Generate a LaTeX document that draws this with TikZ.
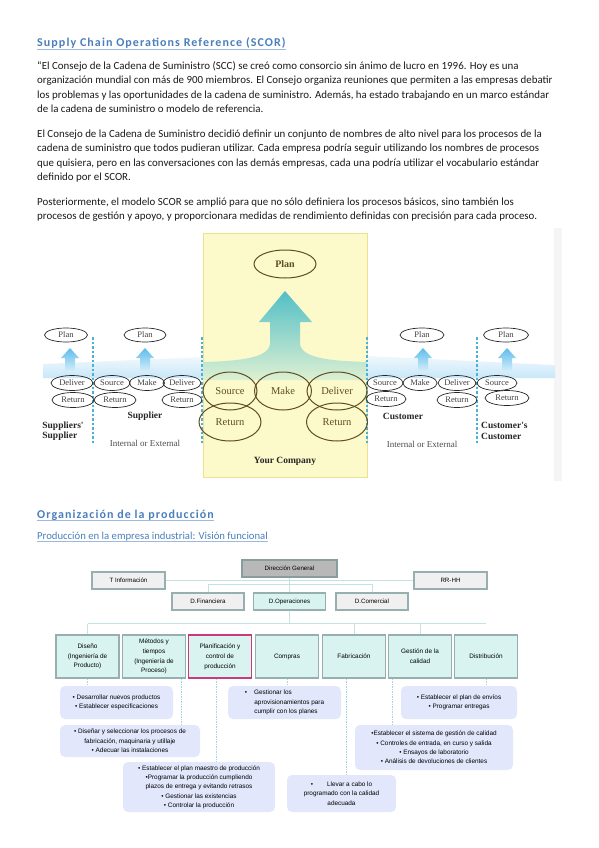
\documentclass[tikz,border=0pt]{standalone}
\usepackage{fontspec}
\setmainfont{Carlito}
\newfontfamily\chartfont{Liberation Sans}
\newfontfamily\scorfont{Liberation Serif}
\newfontfamily\spacedhead[LetterSpace=9]{Carlito}
\usepackage{xcolor}
\usepackage{tikz}
\usetikzlibrary{arrows.meta, positioning, calc, shapes.geometric}

\definecolor{headblue}{HTML}{4A7EBB}
\definecolor{lineblue}{HTML}{9DB9DD}
\definecolor{yellowbg}{HTML}{FCF9CB}
\definecolor{yellowedge}{HTML}{EFE08E}
\definecolor{olivedge}{HTML}{5E4E22}
\definecolor{bandblue}{HTML}{C9E7F8}
\definecolor{arrowtop}{HTML}{52BFC6}
\definecolor{arrowbot}{HTML}{DDF0D2}
\definecolor{smalltop}{HTML}{5DBCEB}
\definecolor{smallbot}{HTML}{D9F0FB}
\definecolor{dashblue}{HTML}{4DB0D8}
\definecolor{orgteal}{HTML}{C4E2E2}
\definecolor{boxedge}{HTML}{97AFAE}
\definecolor{tealfill}{HTML}{D9F4F0}
\definecolor{greyfill}{HTML}{F0F0F0}
\definecolor{dirfill}{HTML}{B8B8B8}
\definecolor{pinkedge}{HTML}{C93A7D}
\definecolor{bubblefill}{HTML}{E2E7FB}
\definecolor{dropblue}{HTML}{A8D3E2}

\begin{document}
\begin{tikzpicture}[
    x=1pt, y=-1pt,
    headtext/.style={font=\spacedhead\bfseries\fontsize{12}{14}\selectfont,
                     text=headblue, anchor=base west, inner sep=0pt},
    subhead/.style={font=\fontsize{10.7}{12}\selectfont, text=headblue,
                    anchor=base west, inner sep=0pt},
    paratext/.style={font=\fontsize{10.9}{14.5}\selectfont, anchor=north west,
                     align=left, inner sep=0pt, text=black!90},
    uline/.style={lineblue, line width=0.8pt},
    scorsmall/.style={ellipse, draw=black!85, line width=0.7pt, inner sep=0pt,
                      minimum height=15pt, text=black!75,
                      font=\scorfont\fontsize{8.5}{9}\selectfont},
    scorbig/.style={ellipse, draw=olivedge, line width=1pt, inner sep=0pt,
                    minimum height=38pt, text=olivedge,
                    font=\scorfont\fontsize{10.5}{12}\selectfont},
    roletext/.style={font=\scorfont\bfseries\fontsize{9.5}{10.5}\selectfont,
                     align=left, inner sep=0pt, text=black!85},
    notetext/.style={font=\scorfont\fontsize{9}{10}\selectfont, text=black!70,
                     inner sep=0pt},
    flowline/.style={dashblue, line width=1.2pt, dash pattern=on 2.5pt off 2pt},
    liftarrow/.style={top color=smalltop, bottom color=smallbot},
    orgbox/.style={draw=boxedge, line width=1.1pt, fill=greyfill,
                   minimum width=73pt, minimum height=17pt, inner sep=1pt,
                   font=\chartfont\fontsize{6.2}{7}\selectfont},
    funcbox/.style={draw=boxedge, line width=1.1pt, fill=tealfill,
                    minimum width=63pt, minimum height=43pt, inner sep=1pt,
                    align=center, font=\chartfont\fontsize{6.4}{9.8}\selectfont},
    taskbox/.style={fill=bubblefill, rounded corners=5pt, inner sep=2pt,
                    align=center, font=\chartfont\fontsize{6.4}{9.3}\selectfont},
    orglink/.style={orgteal, line width=1pt},
    droplink/.style={dropblue, line width=0.8pt, dash pattern=on 1.5pt off 1pt},
]
\useasboundingbox (0,0) rectangle (599,848);

% ═══════════════════════════════════════════════════════════════════════════
%  TOP: SCOR text
% ═══════════════════════════════════════════════════════════════════════════
\node[headtext] (h1) at (37,47) {Supply Chain Operations Reference (SCOR)};
\draw[uline] ([yshift=-2pt]h1.base west) -- ([yshift=-2pt]h1.base east);

\node[paratext] (intro) at (37,61)
    {“El Consejo de la Cadena de Suministro (SCC) se creó como consorcio sin ánimo de lucro en 1996. Hoy es una\\
     organización mundial con más de 900 miembros. El Consejo organiza reuniones que permiten a las empresas debatir\\
     los problemas y las oportunidades de la cadena de suministro. Además, ha estado trabajando en un marco estándar\\
     de la cadena de suministro o modelo de referencia.\\[10pt]
     El Consejo de la Cadena de Suministro decidió definir un conjunto de nombres de alto nivel para los procesos de la\\
     cadena de suministro que todos pudieran utilizar. Cada empresa podría seguir utilizando los nombres de procesos\\
     que quisiera, pero en las conversaciones con las demás empresas, cada una podría utilizar el vocabulario estándar\\
     definido por el SCOR.\\[10pt]
     Posteriormente, el modelo SCOR se amplió para que no sólo definiera los procesos básicos, sino también los\\
     procesos de gestión y apoyo, y proporcionara medidas de rendimiento definidas con precisión para cada proceso.};

% ═══════════════════════════════════════════════════════════════════════════
%  SCOR figure
% ═══════════════════════════════════════════════════════════════════════════
\fill[black!4] (554,228) rectangle (562,481);

% Your company box
\node[draw=yellowedge, fill=yellowbg, line width=0.8pt, inner sep=0pt,
      minimum width=164pt, minimum height=244pt] (company) at (285,355) {};

% Flow band and big arrow
\shade[top color=bandblue!30, bottom color=bandblue]
    (43,364) -- (203,357) -- (203,378) -- (43,378) -- cycle;
\shade[top color=bandblue!30, bottom color=bandblue]
    (367,356) -- (555,365) -- (555,378) -- (367,378) -- cycle;
\shade[top color=arrowtop, bottom color=arrowbot]
    (285,291) -- (312,322) -- (300,322) -- (300,343)
    .. controls (300,358) and (330,361) .. (367,362) -- (367,380)
    -- (203,380) -- (203,362)
    .. controls (240,361) and (270,358) .. (270,343)
    -- (270,322) -- (259,322) -- cycle;

% Small lift arrows
\shade[liftarrow] (70,348) -- (79,358) -- (75,358) -- (75,372) -- (65,372) -- (65,358) -- (61,358) -- cycle;
\shade[liftarrow] (145,348) -- (154,358) -- (150,358) -- (150,372) -- (140,372) -- (140,358) -- (136,358) -- cycle;
\shade[liftarrow] (423,348) -- (432,358) -- (428,358) -- (428,372) -- (418,372) -- (418,358) -- (414,358) -- cycle;
\shade[liftarrow] (507,348) -- (516,358) -- (512,358) -- (512,372) -- (502,372) -- (502,358) -- (498,358) -- cycle;

% Boundaries
\draw[flowline] (93,337) -- (93,443);
\draw[flowline] (202,337) -- (202,443);
\draw[flowline] (367,337) -- (367,443);
\draw[flowline] (477,337) -- (477,443);

% Plans
\node[scorsmall, minimum width=43pt, minimum height=14pt] (planSS) at (66,335) {Plan};
\node[scorsmall, minimum width=42pt, minimum height=14pt] (planS) at (145,335) {Plan};
\node[scorbig, minimum width=62pt, minimum height=28pt,
      font=\scorfont\bfseries\fontsize{10}{12}\selectfont] (planY) at (285,264) {Plan};
\node[scorsmall, minimum width=44pt, minimum height=14pt] (planC) at (422,335) {Plan};
\node[scorsmall, minimum width=45pt, minimum height=14pt] (planCC) at (506,335) {Plan};

% Supplier side
\node[scorsmall, minimum width=42pt] (ssDel) at (72,383) {Deliver};
\node[scorsmall, minimum width=42pt] (ssRet) at (73,400) {Return};
\node[scorsmall, minimum width=36pt] (sSrc) at (112,383) {Source};
\node[scorsmall, minimum width=35pt] (sMak) at (147,383) {Make};
\node[scorsmall, minimum width=38pt] (sDel) at (182,383) {Deliver};
\node[scorsmall, minimum width=42pt] (sRetA) at (115,400) {Return};
\node[scorsmall, minimum width=40pt] (sRetB) at (182,400) {Return};

% Your company
\node[scorbig, minimum width=54pt] (ySrc) at (230,391) {Source};
\node[scorbig, minimum width=57pt] (yMak) at (283,391) {Make};
\node[scorbig, minimum width=60pt] (yDel) at (337,391) {Deliver};
\node[scorbig, minimum width=62pt] (yRetA) at (230,422) {Return};
\node[scorbig, minimum width=61pt] (yRetB) at (337,422) {Return};

% Customer side
\node[scorsmall, minimum width=36pt] (cSrc) at (385,383) {Source};
\node[scorsmall, minimum width=34pt] (cMak) at (420,383) {Make};
\node[scorsmall, minimum width=38pt] (cDel) at (457,383) {Deliver};
\node[scorsmall, minimum width=40pt] (ccSrc) at (497,383) {Source};
\node[scorsmall, minimum width=40pt] (cRetA) at (386,399) {Return};
\node[scorsmall, minimum width=40pt] (cRetB) at (457,400) {Return};
\node[scorsmall, minimum width=44pt] (ccRet) at (507,398) {Return};

% Labels
\node[roletext] (lblSS) at (63,431) {Suppliers'\\Supplier};
\node[roletext] (lblS) at (145,416) {Supplier};
\node[notetext] (lblSI) at (145,443) {Internal or External};
\node[roletext] (lblY) at (285,461) {Your Company};
\node[roletext] (lblC) at (403,416) {Customer};
\node[notetext] (lblCI) at (422,444) {Internal or External};
\node[roletext, anchor=west] (lblCC) at (481,431) {Customer's\\Customer};

% ═══════════════════════════════════════════════════════════════════════════
%  BOTTOM: Organización de la producción
% ═══════════════════════════════════════════════════════════════════════════
\node[headtext] (h2) at (37,518) {Organización de la producción};
\draw[uline] ([yshift=-2pt]h2.base west) -- ([yshift=-2pt]h2.base east);
\node[subhead] (h3) at (37,539) {Producción en la empresa industrial: Visión funcional};
\draw[uline] ([yshift=-2pt]h3.base west) -- ([yshift=-2pt]h3.base east);

% Top level
\node[orgbox, minimum width=73pt] (tinfo) at (128.5,580.5) {T Información};
\node[orgbox, minimum width=73pt] (rrhh) at (450.5,580.5) {RR-HH};
\draw[orglink] (tinfo.east) -- (rrhh.west);
\node[orgbox, fill=dirfill, draw=boxedge!90!black, minimum width=95pt]
    (dirgen) at (289.5,568.5) {Dirección General};

% Departments
\node[orgbox, minimum width=72pt] (dfin) at (208,601.5) {D.Financiera};
\node[orgbox, fill=tealfill, minimum width=72pt] (dop) at (289.5,601.5) {D.Operaciones};
\node[orgbox, minimum width=72pt] (dcom) at (372,601.5) {D.Comercial};
\draw[orglink] (dirgen.south) -- (dop.north);
\draw[orglink] (dfin.north) -- ++(0,-7.5) -| (dcom.north);

% Functions
\node[funcbox] (f1) at (87.5,656.5) {Diseño\\(Ingeniería de\\Producto)};
\node[funcbox] (f2) at (154,656.5) {Métodos y\\tiempos\\(Ingeniería de\\Proceso)};
\node[funcbox, draw=pinkedge] (f3) at (220,656.5) {Planificación y\\control de\\producción};
\node[funcbox] (f4) at (287,656.5) {Compras};
\node[funcbox] (f5) at (354,656.5) {Fabricación};
\node[funcbox] (f6) at (420,656.5) {Gestión de la\\calidad};
\node[funcbox] (f7) at (486,656.5) {Distribución};

\draw[orglink] (dop.south) -- ++(0,13) coordinate (busmid);
\draw[orglink] (f1.north |- busmid) -- (f7.north |- busmid);
\draw[orglink] (f1.north |- busmid) -- (f1.north);
\draw[orglink] (f5.north |- busmid) -- (f5.north);
\draw[orglink] (f6.north |- busmid) -- (f6.north);

% Tasks
\node[taskbox, minimum width=113pt, minimum height=33pt] (b1) at (116.5,702.5)
    {• Desarrollar nuevos productos\\• Establecer especificaciones};
\node[taskbox, minimum width=140pt, minimum height=32pt] (b2) at (130,741)
    {• Diseñar y seleccionar los procesos de\\fabricación, maquinaria y utillaje\\• Adecuar las instalaciones};
\node[taskbox, minimum width=152pt, minimum height=50pt] (b3) at (199,787)
    {• Establecer el plan maestro de producción\\•Programar la producción cumpliendo\\plazos de entrega y evitando retrasos\\• Gestionar las existencias\\• Controlar la producción};
\node[taskbox, align=left, minimum width=113pt, minimum height=33pt] (b4) at (284.5,702.5)
    {•\hspace{7pt}Gestionar los\\\hspace*{9.5pt}aprovisionamientos para\\\hspace*{9.5pt}cumplir con los planes};
\node[taskbox, minimum width=109pt, minimum height=37pt] (b5) at (341.5,793.5)
    {•\hspace{14pt}Llevar a cabo lo\\programado con la calidad\\adecuada};
\node[taskbox, minimum width=158pt, minimum height=45pt] (b6) at (434,747.5)
    {•Establecer el sistema de gestión de calidad\\• Controles de entrada, en curso y salida\\• Ensayos de laboratorio\\• Análisis de devoluciones de clientes};
\node[taskbox, minimum width=116pt, minimum height=33pt] (b7) at (459,702.5)
    {• Establecer el plan de envíos\\• Programar entregas};

% Drop lines
\draw[droplink] (f1.south) -- (f1.south |- b1.north);
\draw[droplink] ([xshift=27pt]f2.south) -- ([xshift=27pt]f2.south |- b2.north);
\draw[droplink] ([xshift=-4pt]f3.south) -- ([xshift=-4pt]f3.south |- b3.north);
\draw[droplink] (f4.south) -- (f4.south |- b4.north);
\draw[droplink] ([xshift=-8pt]f5.south) -- ([xshift=-8pt]f5.south |- b5.north);
\draw[droplink] ([xshift=-28pt]f6.south) -- ([xshift=-28pt]f6.south |- b6.north);
\draw[droplink] (f7.south) -- (f7.south |- b7.north);

\end{tikzpicture}
\end{document}
